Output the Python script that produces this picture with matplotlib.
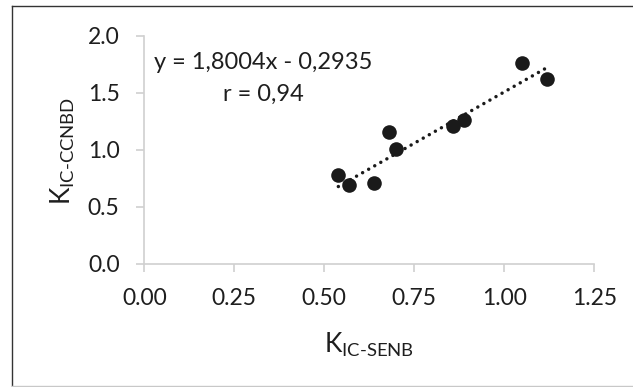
import matplotlib
matplotlib.use("Agg")
import matplotlib.pyplot as plt
from matplotlib.lines import Line2D
import numpy as np

# ---- data ----
k_senb = [0.539, 0.569, 0.639, 0.679, 0.699, 0.857, 0.889, 1.048, 1.118]
k_ccnbd = [0.778, 0.690, 0.705, 1.158, 1.006, 1.208, 1.260, 1.758, 1.617]
slope = 1.8004
intercept = -0.2935
eq_text = "y = 1,8004x - 0,2935"
r_text = "r = 0,94"
x_ticks = [0.0, 0.25, 0.5, 0.75, 1.0, 1.25]
x_ticklabels = ["0.00", "0.25", "0.50", "0.75", "1.00", "1.25"]
y_ticks = [0.0, 0.5, 1.0, 1.5, 2.0]
y_ticklabels = ["0.0", "0.5", "1.0", "1.5", "2.0"]

plt.rcParams['font.family'] = ['Lato', 'DejaVu Sans']
plt.rcParams['mathtext.fontset'] = 'custom'
plt.rcParams['mathtext.rm'] = 'Lato'
plt.rcParams['mathtext.it'] = 'Lato'

W, H = 633, 387
fig = plt.figure(figsize=(W / 100, H / 100), dpi=100)
fig.patch.set_facecolor('white')

def fx(px):
    return px / W

def fy(py):
    return 1 - py / H

ax_l, ax_r, ax_t, ax_b = 144.3, 594.3, 35.7, 263.7
ax = fig.add_axes([fx(ax_l), fy(ax_b), (ax_r - ax_l) / W, (ax_b - ax_t) / H])

grey = '#d0d0d0'
txt = '#1e1e1e'
pt_col = '#1a1a1a'

ax.scatter(k_senb, k_ccnbd, s=10.5 ** 2, color=pt_col, zorder=3, linewidths=0)

xs = np.array([min(k_senb), max(k_senb)])
ax.plot(xs, slope * xs + intercept, color=pt_col, lw=2.5,
        linestyle=(0, (0.01, 2.0)), dash_capstyle='round', zorder=2)

ax.set_xlim(0, 1.25)
ax.set_ylim(0, 2.0)
ax.set_xticks(x_ticks)
ax.set_xticklabels(x_ticklabels)
ax.set_yticks(y_ticks)
ax.set_yticklabels(y_ticklabels)

for s in ['top', 'right']:
    ax.spines[s].set_visible(False)
for s in ['left', 'bottom']:
    ax.spines[s].set_color(grey)
    ax.spines[s].set_linewidth(1.2)

ax.tick_params(axis='both', direction='out', length=5.8, width=1.2, color=grey,
               labelsize=16.5, labelcolor=txt, pad=12)

# axis labels
fig.text(fx(369.3), fy(353), r'$\mathrm{K}_{\mathrm{IC}\text{-}\mathrm{SENB}}$',
         fontsize=19, color=txt, ha='center', va='baseline')
fig.text(fx(70.7), fy(151), r'$\mathrm{K}_{\mathrm{IC}\text{-}\mathrm{CCNBD}}$',
         fontsize=19, color=txt, ha='center', va='baseline',
         rotation=90, rotation_mode='anchor')

# equation annotation
fig.text(fx(263.5), fy(69.3), eq_text, fontsize=17, color=txt,
         ha='center', va='baseline')
fig.text(fx(263.5), fy(101), r_text, fontsize=17, color=txt,
         ha='center', va='baseline')

# outer border
fig.add_artist(Line2D([fx(11.5), fx(633)], [fy(6), fy(6)], color='#333333', lw=1.0,
                      transform=fig.transFigure))
fig.add_artist(Line2D([fx(11.5), fx(11.5)], [fy(6), fy(387)], color='#333333', lw=1.0,
                      transform=fig.transFigure))
fig.add_artist(Line2D([fx(11.5), fx(633)], [fy(386.3), fy(386.3)], color='#c8c8c8', lw=1.0,
                      transform=fig.transFigure))

fig.savefig('out.png', dpi=100, facecolor='white')
